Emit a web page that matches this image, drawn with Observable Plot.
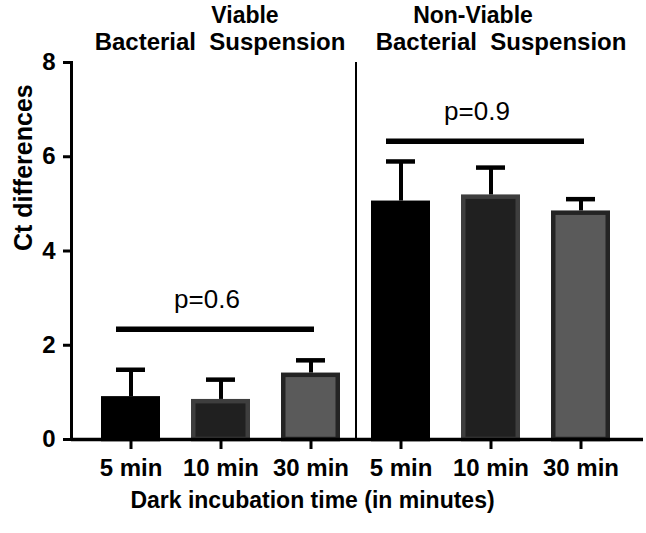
<!DOCTYPE html>
<html><head><meta charset="utf-8">
<script src="https://cdn.jsdelivr.net/npm/d3@7"></script>
<script src="https://cdn.jsdelivr.net/npm/@observablehq/plot@0.6"></script>
<style>body{margin:0;background:#fff}</style>
</head><body><div id="chart"></div>
<script>
// ---- data ----
const groups = ["Viable", "Non-Viable"];
const groupSubtitle = "Bacterial\u00a0\u00a0Suspension";
const times = ["5 min", "10 min", "30 min"];
const viableMean = [0.91, 0.85, 1.41];
const viableErr = [0.57, 0.42, 0.27];
const nonViableMean = [5.06, 5.19, 4.85];
const nonViableErr = [0.84, 0.58, 0.25];
const pLabels = ["p=0.6", "p=0.9"];
const pLevels = [2.34, 6.33];
const yTicks = [0, 2, 4, 6, 8];
const xTitle = "Dark incubation time (in minutes)";
const yTitle = "Ct differences";

// ---- styles ----
const fillByTime = {"5 min": "#000000", "10 min": "#202020", "30 min": "#5a5a5a"};
const strokeByTime = {"5 min": "#000000", "10 min": "#3e3e3e", "30 min": "#242424"};

const keyOf = (g, t) => g + "|" + t;
const means = [viableMean, nonViableMean];
const errs = [viableErr, nonViableErr];
const rows = [];
groups.forEach((g, gi) => times.forEach((t, ti) => rows.push({
  key: keyOf(g, t), group: g, time: t, mean: means[gi][ti], err: errs[gi][ti]
})));
const keys = rows.map(d => d.key);
const keyLabel = Object.fromEntries(rows.map(d => [d.key, d.time]));
const sig = groups.map((g, gi) => ({
  label: pLabels[gi], level: pLevels[gi],
  x1: keyOf(g, times[0]), x2: keyOf(g, times[2]), mid: keyOf(g, times[1])
}));

const plot = Plot.plot({
  width: 646, height: 533,
  marginLeft: 71, marginRight: 3, marginTop: 62, marginBottom: 94,
  style: {fontFamily: "'Liberation Sans', Arial, sans-serif", fontWeight: "bold", color: "#000", background: "#fff", overflow: "visible"},
  x: {domain: keys, range: [86, 626], paddingInner: 0.344, paddingOuter: 0.172, align: 0.5},
  y: {domain: [0, 8]},
  marks: [
    Plot.rectY(rows, {x: "key", y: "mean", fill: d => fillByTime[d.time], stroke: d => strokeByTime[d.time],
      strokeWidth: 4.5, insetLeft: 2.25, insetRight: 2.25, insetTop: 2.25}),
    Plot.ruleX(rows, {x: "key", y1: "mean", y2: d => d.mean + d.err, stroke: "#000", strokeWidth: 4}),
    Plot.tickY(rows, {x: "key", y: d => d.mean + d.err, stroke: "#000", strokeWidth: 4.5, insetLeft: 15, insetRight: 15}),
    Plot.ruleX([keyOf(groups[0], times[2])], {x: d => d, y1: 0, y2: 8, dx: 45, stroke: "#000", strokeWidth: 2}),
    Plot.ruleY(sig, {y: "level", x1: "x1", x2: "x2", insetLeft: 15, insetRight: 26, stroke: "#000", strokeWidth: 5.5}),
    Plot.text(sig, {x: "mid", y: "level", text: "label", dx: -14, dy: -30, fontSize: 26, fontWeight: "normal"}),
    Plot.frame({anchor: "left", stroke: "#000", strokeWidth: 3}),
    Plot.ruleY([0], {stroke: "#000", strokeWidth: 3.5}),
    Plot.axisY({ticks: yTicks, tickSize: 8, tickPadding: 8, strokeWidth: 3, fontSize: 24, label: null}),
    Plot.axisX({tickSize: 10, tickPadding: 9, strokeWidth: 3, fontSize: 24, tickFormat: k => keyLabel[k], label: null}),
    Plot.text([xTitle], {text: d => d, frameAnchor: "bottom", dx: -45, dy: 68, fontSize: 23}),
    Plot.text([yTitle], {text: d => d, frameAnchor: "left", rotate: -90, dx: -48, fontSize: 25}),
    Plot.text([groups[0]], {text: d => d, x: () => keyOf(groups[0], times[1]), frameAnchor: "top", dx: 24, dy: -56, fontSize: 23}),
    Plot.text([groups[1]], {text: d => d, x: () => keyOf(groups[1], times[1]), frameAnchor: "top", dx: -18, dy: -56, fontSize: 23}),
    Plot.text([groupSubtitle], {text: d => d, x: () => keyOf(groups[0], times[1]), frameAnchor: "top", dx: -1, dy: -30, fontSize: 24}),
    Plot.text([groupSubtitle], {text: d => d, x: () => keyOf(groups[1], times[1]), frameAnchor: "top", dx: 10, dy: -30, fontSize: 24})
  ]
});
document.getElementById("chart").appendChild(plot);
</script>
</body></html>
